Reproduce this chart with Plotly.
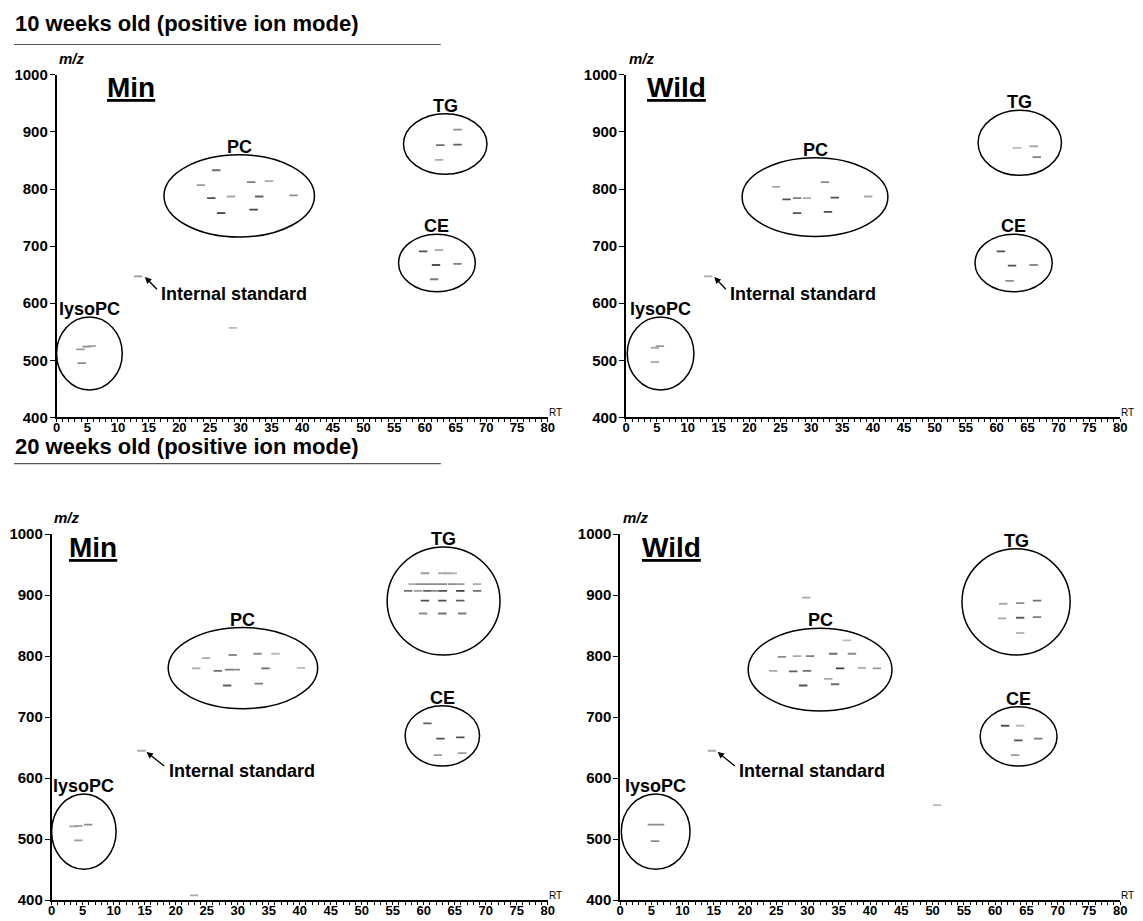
import plotly.graph_objects as go

# page body has an 8px margin, so the figure is sized to the visible area
W, H = 1135, 913

# ---------------- data ----------------
panel_labels = ["Min", "Wild", "Min", "Wild"]
panel_label_rt = [12.2, 8.1, 6.7, 8.3]
block_titles = ["10 weeks old (positive ion mode)", "20 weeks old (positive ion mode)"]
region_names = ["PC", "TG", "CE", "lysoPC"]

# region bounds: [rt_min, rt_max, mz_min, mz_max] per region (PC, TG, CE, lysoPC)
regions_10w_min = [[17.5, 42.0, 716, 860], [56.5, 70.1, 826, 932], [55.7, 68.2, 620, 721], [0.0, 10.7, 448, 576]]
regions_10w_wild = [[18.8, 42.4, 717, 855], [57.0, 70.5, 824, 938], [56.5, 69.0, 620, 721], [0.2, 11.0, 448, 576]]
regions_20w_min = [[18.8, 42.9, 714, 847], [54.1, 72.3, 802, 979], [57.0, 69.0, 620, 719], [0.0, 10.4, 451, 574]]
regions_20w_wild = [[20.5, 43.5, 710, 846], [54.7, 72.0, 802, 976], [57.6, 69.9, 620, 717], [0.2, 11.2, 451, 574]]

# detected spots: retention time, m/z, relative intensity
rt_10w_min = [26.0, 23.5, 25.2, 28.4, 26.8, 31.7, 34.6, 33.0, 32.1, 38.6,
              65.3, 62.5, 65.3, 62.3,
              59.7, 62.3, 61.8, 65.3, 61.5,
              3.9, 4.9, 5.7, 4.1, 13.3, 28.7]
mz_10w_min = [833, 807, 784, 787, 758, 812, 814, 787, 764, 789,
              904, 877, 878, 851,
              691, 693, 667, 669, 642,
              519, 524, 525, 495, 647, 557]
in_10w_min = [0.7, 0.4, 0.9, 0.3, 1.0, 0.6, 0.3, 0.8, 1.0, 0.5,
              0.5, 0.7, 0.8, 0.3,
              0.9, 0.3, 0.9, 0.6, 0.6,
              0.4, 0.5, 0.4, 0.5, 0.4, 0.2]

rt_10w_wild = [24.3, 26.0, 27.7, 29.3, 32.2, 33.8, 39.2, 27.7, 32.7,
               63.3, 66.0, 66.5,
               60.7, 62.5, 66.0, 62.1,
               4.7, 5.5, 4.7, 13.3]
mz_10w_wild = [804, 782, 784, 784, 812, 785, 787, 758, 760,
               872, 875, 856,
               691, 666, 667, 639,
               522, 525, 497, 647]
in_10w_wild = [0.3, 0.9, 0.6, 0.3, 0.5, 0.9, 0.3, 0.9, 0.9,
               0.2, 0.3, 0.6,
               0.9, 0.9, 0.5, 0.5,
               0.3, 0.4, 0.3, 0.3]

rt_20w_min = [24.9, 29.2, 33.2, 36.1, 23.3, 26.8, 28.6, 29.7, 34.5, 40.2, 28.3, 33.4,
              60.2, 63.0, 63.9, 64.7,
              58.2, 59.4, 60.7, 61.8, 63.1, 64.6, 65.9, 68.6,
              57.5, 59.1, 60.6, 61.8, 63.1, 65.9, 68.6,
              60.2, 63.0, 65.9,
              59.9, 63.0, 66.2,
              60.6, 62.7, 65.9, 62.3, 66.2,
              3.5, 4.3, 5.9, 4.3, 14.5, 23.0]
mz_20w_min = [797, 802, 804, 804, 780, 776, 778, 778, 780, 781, 752, 755,
              936, 936, 936, 936,
              918, 918, 918, 918, 918, 918, 918, 918,
              907, 907, 907, 907, 907, 907, 907,
              891, 891, 891,
              870, 870, 870,
              690, 665, 667, 638, 641,
              521, 522, 524, 498, 645, 408]
in_20w_min = [0.3, 0.5, 0.5, 0.2, 0.3, 0.7, 0.6, 0.5, 0.7, 0.2, 0.8, 0.6,
              0.4, 0.3, 0.3, 0.2,
              0.3, 0.5, 0.5, 0.5, 0.5, 0.5, 0.4, 0.3,
              0.7, 0.4, 0.8, 0.5, 0.9, 1.0, 0.7,
              0.9, 0.9, 0.8,
              0.5, 0.7, 0.6,
              0.8, 0.9, 0.9, 0.4, 0.4,
              0.3, 0.4, 0.5, 0.4, 0.3, 0.3]

rt_20w_wild = [25.9, 28.3, 30.4, 34.1, 37.1, 36.3, 24.5, 27.7, 29.9, 35.2, 38.7, 41.1, 29.3, 34.4, 33.3, 29.8,
               61.3, 64.0, 66.7, 61.1, 64.0, 66.7, 64.0,
               61.6, 64.0, 63.7, 66.9, 63.2,
               5.1, 6.4, 5.6, 14.7, 50.7]
mz_20w_wild = [799, 800, 800, 804, 804, 826, 776, 775, 776, 780, 781, 780, 752, 754, 763, 896,
               886, 887, 891, 862, 863, 864, 838,
               686, 686, 662, 665, 638,
               524, 524, 497, 645, 556]
in_20w_wild = [0.5, 0.3, 0.6, 0.7, 0.5, 0.2, 0.3, 0.8, 0.7, 1.0, 0.3, 0.4, 0.9, 0.7, 0.3, 0.3,
               0.3, 0.5, 0.7, 0.3, 0.8, 0.6, 0.2,
               0.9, 0.2, 0.9, 0.6, 0.4,
               0.5, 0.5, 0.5, 0.3, 0.2]

x_ticks = list(range(0, 81, 5))
y_ticks = list(range(400, 1001, 100))

# internal standard arrows: (head rt, head mz, tail rt, tail mz)
istd_arrows = [[14.4, 646, 16.6, 622], [14.3, 646, 16.4, 622], [15.3, 643, 18.4, 618], [15.6, 643, 18.6, 618]]
istd_text = "Internal standard"

spots = [(rt_10w_min, mz_10w_min, in_10w_min), (rt_10w_wild, mz_10w_wild, in_10w_wild),
         (rt_20w_min, mz_20w_min, in_20w_min), (rt_20w_wild, mz_20w_wild, in_20w_wild)]
regions = [regions_10w_min, regions_10w_wild, regions_20w_min, regions_20w_wild]

# ---------------- layout geometry (pixels) ----------------
# x0, x1, ytop, ybottom of each plot area
boxes = [(45, 541, 59, 408), (620, 1119, 59, 408), (40, 541, 527, 900), (614, 1119, 527, 900)]


def pxx(x):
    return x / W


def pxy(y):
    return 1 - y / H


FONT = "Liberation Sans"
fig = go.Figure()
layout = dict(width=W, height=H, margin=dict(l=0, r=0, t=0, b=0),
              paper_bgcolor="white", plot_bgcolor="white", showlegend=False,
              font=dict(family=FONT, color="black"))
annotations = []
shapes = []


def gray(v):
    g = int(215 - 150 * v)
    return f"rgb({g},{g},{g})"


for i, (x0, x1, yt, yb) in enumerate(boxes):
    n = "" if i == 0 else str(i + 1)
    xa, ya = "x" + n, "y" + n
    rt, mz, inten = spots[i]
    fig.add_trace(go.Scatter(x=rt, y=mz, mode="markers", xaxis=xa, yaxis=ya,
                             marker=dict(symbol="line-ew", size=6,
                                         line=dict(width=1.8, color=[gray(v) for v in inten])),
                             hoverinfo="skip"))
    common = dict(showgrid=False, zeroline=False, showline=True, linecolor="black", linewidth=1.6,
                  ticks="outside", tickcolor="black", tickwidth=1.3)
    layout["xaxis" + n] = dict(domain=[pxx(x0), pxx(x1)], range=[0, 80], anchor=ya,
                               tickvals=x_ticks, ticklen=3, ticklabelstandoff=-6,
                               tickfont=dict(family=FONT, size=13, color="black", weight="bold"),
                               minor=dict(dtick=1, ticklen=2.5, ticks="outside", tickcolor="black", tickwidth=1),
                               **common)
    layout["yaxis" + n] = dict(domain=[pxy(yb), pxy(yt)], range=[400, 1000], anchor=xa,
                               tickvals=y_ticks, ticklen=5, ticklabelstandoff=-1,
                               tickfont=dict(family=FONT, size=15, color="black", weight="bold"),
                               **common)
    # regions
    for name, (r0, r1, m0, m1) in zip(region_names, regions[i]):
        shapes.append(dict(type="circle", xref=xa, yref=ya, x0=r0, x1=r1, y0=m0, y1=m1,
                           line=dict(color="black", width=1.5)))
        annotations.append(dict(x=(r0 + r1) / 2, y=m1, xref=xa, yref=ya, text=f"<b>{name}</b>",
                                showarrow=False, yanchor="bottom", yshift=-4,
                                font=dict(size=18, family=FONT)))
    # panel label
    annotations.append(dict(x=panel_label_rt[i], y=978, xref=xa, yref=ya,
                            text=f"<b><u>{panel_labels[i]}</u></b>", yanchor="middle",
                            showarrow=False, font=dict(size=28, family=FONT)))
    # m/z label
    annotations.append(dict(x=pxx(x0 + 16), y=pxy(yt - 17), xref="paper", yref="paper",
                            text="<b><i>m/z</i></b>", showarrow=False, xanchor="center", yanchor="middle",
                            font=dict(size=15, family=FONT)))
    # RT label
    annotations.append(dict(x=80, y=400, xref=xa, yref=ya, text="RT", showarrow=False,
                            xanchor="left", yanchor="bottom", xshift=-1, yshift=-3,
                            font=dict(size=10, family=FONT)))
    # internal standard
    hx, hy, tx, ty = istd_arrows[i]
    annotations.append(dict(x=hx, y=hy, ax=tx, ay=ty, xref=xa, yref=ya, axref=xa, ayref=ya,
                            text="", showarrow=True, arrowhead=2, arrowsize=1, arrowwidth=1.3,
                            arrowcolor="black"))
    annotations.append(dict(x=tx + 0.15, y=ty - 6, xref=xa, yref=ya, text=f"<b>{istd_text}</b>",
                            showarrow=False, xanchor="left", yanchor="middle",
                            font=dict(size=18, family=FONT)))

# block titles with underline
for title, ty, uy in zip(block_titles, [7, 438], [28, 455]):
    annotations.append(dict(x=pxx(1), y=pxy(ty), xref="paper", yref="paper", text=f"<b>{title}</b>",
                            showarrow=False, xanchor="left", yanchor="middle",
                            font=dict(size=22, family=FONT)))
    shapes.append(dict(type="line", xref="paper", yref="paper", x0=pxx(2), x1=pxx(433),
                       y0=pxy(uy), y1=pxy(uy), line=dict(color="#555", width=1.2)))

layout["annotations"] = annotations
layout["shapes"] = shapes
fig.update_layout(**layout)
fig.write_html("out.html")
